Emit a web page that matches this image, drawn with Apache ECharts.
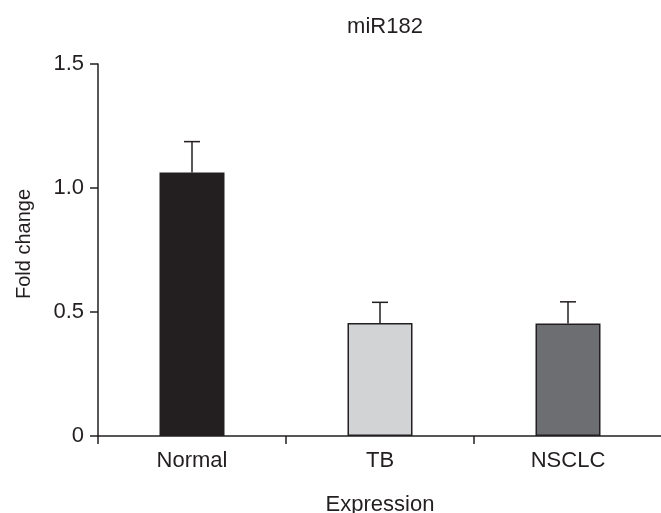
<!DOCTYPE html>
<html><head><meta charset="utf-8">
<script src="https://cdn.jsdelivr.net/npm/echarts@6/dist/echarts.min.js"></script>
<style>html,body{margin:0;padding:0;background:#fff}#c{width:661px;height:513px}</style>
</head><body><div id="c"></div>
<script>
const categories = ['Normal', 'TB', 'NSCLC'];
const values = [1.063, 0.456, 0.454];
const errorTops = [1.187, 0.539, 0.541];
const barColors = ['#231f20', '#d1d3d4', '#6d6e71'];
const yTicks = [0, 0.5, 1.0, 1.5];

const ink = '#231f20';
const font = 'Liberation Sans, Arial, Helvetica, sans-serif';
const chart = echarts.init(document.getElementById('c'), null, {renderer: 'canvas'});
chart.setOption({
  animation: false,
  backgroundColor: '#fff',
  title: {
    text: 'miR182', left: 380, top: 11, textAlign: 'center',
    textStyle: {fontFamily: font, fontSize: 22, fontWeight: 'normal', color: ink}
  },
  grid: {left: 98, top: 64, height: 372, width: 564, containLabel: false, outerBoundsMode: 'none'},
  xAxis: {
    type: 'category', data: categories,
    name: 'Expression', nameLocation: 'middle', nameGap: 58,
    nameTextStyle: {fontFamily: font, fontSize: 22, color: ink},
    axisLine: {lineStyle: {color: ink, width: 1.5}},
    axisTick: {show: true, inside: false, length: 8, lineStyle: {color: ink, width: 1.5}},
    axisLabel: {fontFamily: font, fontSize: 22, color: ink, margin: 14},
    splitLine: {show: false}
  },
  yAxis: {
    type: 'value', min: 0, max: 1.5, interval: 0.5,
    name: 'Fold change', nameLocation: 'middle', nameGap: 64,
    nameTextStyle: {fontFamily: font, fontSize: 20, color: ink, padding: [0, 0, 0, 12]},
    axisLine: {show: true, lineStyle: {color: ink, width: 1.5}},
    axisTick: {show: true, length: 8, lineStyle: {color: ink, width: 1.5}},
    axisLabel: {fontFamily: font, fontSize: 22, color: ink, margin: 14,
      formatter: v => yTicks.includes(v) ? (v === 0 ? '0' : v.toFixed(1)) : ''},
    splitLine: {show: false}
  },
  series: [
    {
      type: 'bar', barWidth: 65,
      data: values.map((v, i) => ({value: v, itemStyle: {color: barColors[i], borderColor: ink, borderWidth: 1.5}})),
      z: 2
    },
    {
      type: 'custom', z: 1,
      data: values.map((v, i) => [i, v, errorTops[i]]),
      renderItem: function (params, api) {
        const base = api.coord([api.value(0), api.value(1)]);
        const top = api.coord([api.value(0), api.value(2)]);
        const hw = 8;
        return {
          type: 'group',
          children: [
            {type: 'line', shape: {x1: base[0], y1: base[1], x2: top[0], y2: top[1]}, style: {stroke: ink, lineWidth: 1.5}},
            {type: 'line', shape: {x1: top[0] - hw, y1: top[1], x2: top[0] + hw, y2: top[1]}, style: {stroke: ink, lineWidth: 1.5}}
          ]
        };
      }
    }
  ]
});
</script></body></html>
